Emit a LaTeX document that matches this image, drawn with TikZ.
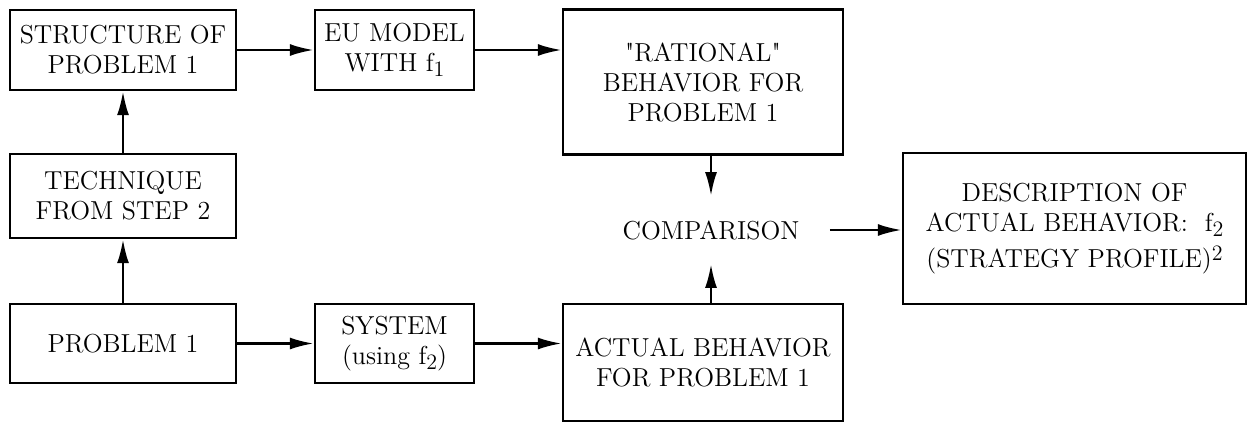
\documentclass[tikz,border=0pt]{standalone}
\usepackage{amsmath}
\usepackage{tikz}
\usetikzlibrary{arrows.meta,calc,positioning}
\newcommand{\lowidx}[1]{\raisebox{-0.5ex}{\fontsize{11}{11}\selectfont #1}}
\newcommand{\highidx}[1]{\raisebox{0.6ex}{\fontsize{11}{11}\selectfont #1}}
\tikzset{
  block/.style={
    draw=black,
    line width=1.2pt,
    align=center,
    inner sep=0pt,
    font=\fontsize{13}{15}\selectfont
  },
  label/.style={
    align=center,
    inner xsep=15pt,
    inner ysep=12pt,
    font=\fontsize{13}{15}\selectfont
  },
  arrow/.style={
    -{Latex[length=12pt,width=6pt]},
    line width=1.3pt,
    black
  }
}

\begin{document}
\begin{tikzpicture}[x=0.5pt,y=-0.5pt]
\useasboundingbox (0,0) rectangle (1248,423);
% left column
\node[block, minimum width=113pt, minimum height=40pt] (struct) at (123,50) {STRUCTURE OF\\PROBLEM 1};
\node[block, minimum width=113pt, minimum height=42pt] (tech) at (123,196) {TECHNIQUE\\FROM STEP 2};
\node[block, minimum width=113pt, minimum height=39.5pt] (prob) at (123,343.5) {PROBLEM 1};
% middle column
\node[block, minimum width=79.5pt, minimum height=40pt] (eu) at (394.5,50) {EU MODEL\\WITH f\lowidx{1}};
\node[block, minimum width=79.5pt, minimum height=39.5pt] (sys) at (394.5,343.5) {SYSTEM\\(using f\lowidx{2})};
% behaviour boxes
\node[block, minimum width=140pt, minimum height=72.5pt] (rat) at (703,82) {\textquotedbl RATIONAL\textquotedbl\\BEHAVIOR FOR\\PROBLEM 1};
\node[label] (comp) at (711,230) {COMPARISON};
\node[block, minimum width=140pt, minimum height=58.5pt] (act) at (703,362.5) {ACTUAL BEHAVIOR\\FOR PROBLEM 1};
\node[block, minimum width=171.5pt, minimum height=75.5pt] (desc) at (1074.5,228.5) {DESCRIPTION OF\\ACTUAL BEHAVIOR:\ \ f\lowidx{2}\\[3pt](STRATEGY PROFILE)\highidx{2}};
% connectors
\draw[arrow] (prob) -- (tech);
\draw[arrow] (tech) -- (struct);
\draw[arrow] (struct) -- (eu);
\draw[arrow] (eu.east) -- (eu.east -| rat.west);
\draw[arrow] (prob) -- (sys);
\draw[arrow] (sys.east) -- (sys.east -| act.west);
\draw[arrow] (rat.south -| comp.north) -- (comp.north);
\draw[arrow] (act.north -| comp.south) -- (comp.south);
\draw[arrow] (comp.east) -- (comp.east -| desc.west);
\end{tikzpicture}
\end{document}
